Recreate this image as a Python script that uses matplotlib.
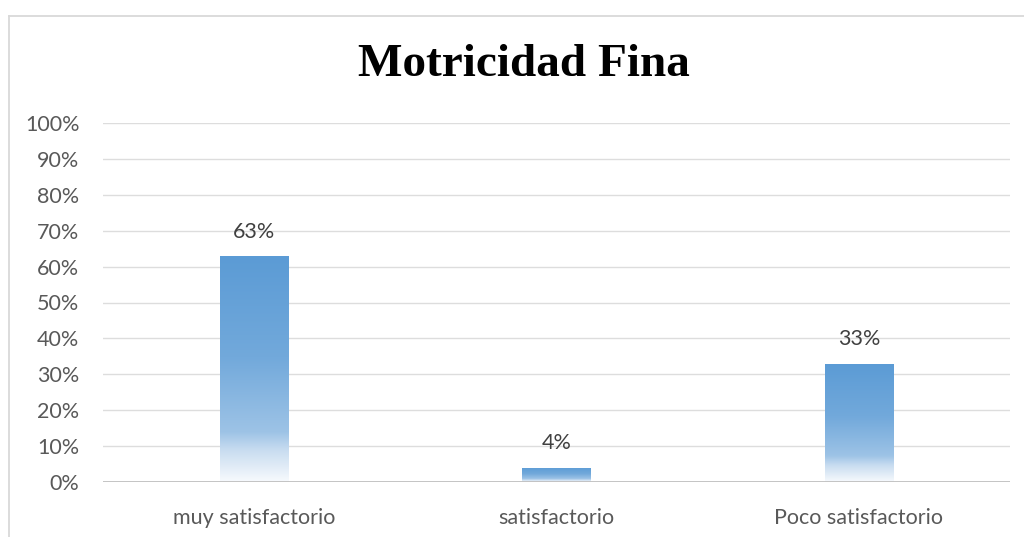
import matplotlib
matplotlib.use("Agg")
import matplotlib.pyplot as plt
import numpy as np
from matplotlib.colors import LinearSegmentedColormap
from matplotlib.lines import Line2D

categories = ["muy satisfactorio", "satisfactorio", "Poco satisfactorio"]
values = [63, 4, 33]
value_labels = ["63%", "4%", "33%"]
yticks = [0, 10, 20, 30, 40, 50, 60, 70, 80, 90, 100]
ytick_labels = [f"{t}%" for t in yticks]
title = "Motricidad Fina"

W, H = 1024, 537
fig = plt.figure(figsize=(W / 100, H / 100), dpi=100)
ax = fig.add_axes([103 / W, 1 - 482 / H, (1010 - 103) / W, (482 - 123) / H])

x = np.arange(len(categories))
bars = ax.bar(x, values, width=0.225, facecolor="none", edgecolor="none", zorder=3)

cmap = LinearSegmentedColormap.from_list(
    "grad",
    [(0.0, "#5B9BD5"), (0.45, "#72A9DB"), (0.78, "#9DC3E6"), (0.86, "#C8DCF0"), (1.0, "#F7FAFD")],
)
grad = np.linspace(0, 1, 256).reshape(-1, 1)
for p in bars:
    x0, w, h = p.get_x(), p.get_width(), p.get_height()
    im = ax.imshow(grad, cmap=cmap, aspect="auto", extent=(x0, x0 + w, 0, h),
                   origin="upper", zorder=3, interpolation="bilinear")
    im.set_clip_path(p)

for p, lab in zip(bars, value_labels):
    ax.annotate(lab, (p.get_x() + p.get_width() / 2, p.get_height()),
                xytext=(0, 17.5), textcoords="offset points", ha="center", va="center",
                fontsize=15.5, color="#404040", family="Lato")

ax.set_xlim(-0.5, len(categories) - 0.5)
ax.set_ylim(0, 100)
ax.set_yticks(yticks)
ax.set_yticklabels(ytick_labels)
ax.set_xticks(x)
ax.set_xticklabels(categories)
ax.tick_params(axis="both", length=0, labelsize=15.5, colors="#595959")
for lbl in ax.get_xticklabels() + ax.get_yticklabels():
    lbl.set_family("Lato")
ax.tick_params(axis="y", pad=17)
ax.tick_params(axis="x", pad=19)

for t in yticks[1:]:
    ax.axhline(t, color="#DDDDDD", lw=1, zorder=1)
ax.axhline(0, color="#BFBFBF", lw=1.3, zorder=4)
for s in ax.spines.values():
    s.set_visible(False)

fig.text(524 / W, 1 - 65 / H, title, ha="center", va="center", fontsize=34,
         fontweight="bold", family="Liberation Serif", color="#000000")

bx = 8.5 / W
by = 1 - 15.5 / H
fig.add_artist(Line2D([bx, bx], [0, by], transform=fig.transFigure, color="#D9D9D9", lw=1.3))
fig.add_artist(Line2D([bx, 1], [by, by], transform=fig.transFigure, color="#D9D9D9", lw=1.3))

fig.savefig("out.png", dpi=100)
